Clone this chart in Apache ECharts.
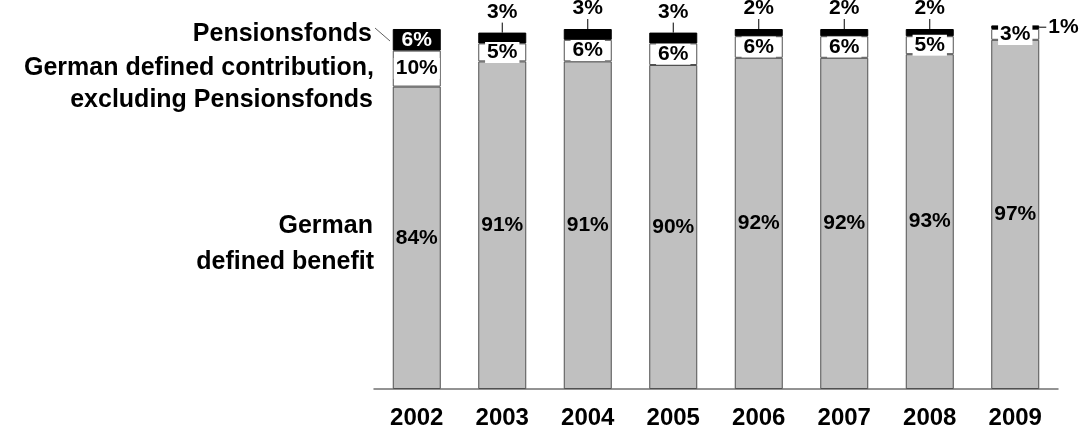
<!DOCTYPE html>
<html>
<head>
<meta charset="utf-8">
<script src="https://cdn.jsdelivr.net/npm/echarts@6/dist/echarts.min.js"></script>
<style>html,body{margin:0;padding:0;background:#fff}#c{width:1080px;height:432px}</style>
</head>
<body>
<div id="c"></div>
<script>
const years = ['2002','2003','2004','2005','2006','2007','2008','2009'];
const definedBenefit = [84, 91, 91, 90, 92, 92, 93, 97];
const definedContribution = [10, 5, 6, 6, 6, 6, 5, 3];
const pensionsfonds = [6, 3, 3, 3, 2, 2, 2, 1];
const pensionsLabelPos = ['inside','top','top','top','top','top','top','right'];

const FONT = '"Liberation Sans", Arial, Helvetica, sans-serif';
const totals = years.map((_, i) => definedBenefit[i] + definedContribution[i] + pensionsfonds[i]);
const BAR_W = 48;

const chart = echarts.init(document.getElementById('c'), null, {renderer: 'canvas'});
const lblBase = {show: true, fontFamily: FONT, fontWeight: 'bold', fontSize: 21, color: '#000', formatter: p => p.value + '%'};

chart.setOption({
  animation: false,
  grid: {left: 374, right: 22, top: 29, bottom: 43},
  xAxis: {
    type: 'category', data: years,
    axisLine: {lineStyle: {color: '#707070', width: 1.5}},
    axisTick: {show: false},
    axisLabel: {fontFamily: FONT, fontWeight: 'bold', fontSize: 24, color: '#000', margin: 17}
  },
  yAxis: {type: 'value', min: 0, max: 100, show: false, splitLine: {show: false}},
  series: [
    {
      name: 'German defined benefit', type: 'bar', stack: 't', barWidth: BAR_W, clip: false,
      data: definedBenefit,
      itemStyle: {color: '#c0c0c0', borderColor: '#505050', borderWidth: 1},
      label: Object.assign({}, lblBase, {position: 'inside'})
    },
    {
      name: 'German defined contribution, excluding Pensionsfonds', type: 'bar', stack: 't', barWidth: BAR_W, clip: false,
      data: definedContribution,
      itemStyle: {color: '#ffffff', borderColor: '#505050', borderWidth: 1},
      label: Object.assign({}, lblBase, {position: 'inside', backgroundColor: '#fff', padding: [0, 2]})
    },
    {
      name: 'Pensionsfonds', type: 'bar', stack: 't', barWidth: BAR_W, clip: false,
      data: pensionsfonds.map((v, i) => ({
        value: v,
        label: pensionsLabelPos[i] === 'inside'
          ? {position: 'inside', color: '#fff'}
          : {position: pensionsLabelPos[i], distance: pensionsLabelPos[i] === 'top' ? 10 : 9, color: '#000'}
      })),
      itemStyle: {color: '#000000', borderColor: '#000', borderWidth: 1},
      label: Object.assign({}, lblBase)
    },
    {
      type: 'custom', z: 5, clip: false,
      data: years.map((_, i) => [i, totals[i]]),
      renderItem: function (params, api) {
        const i = api.value(0);
        const pos = pensionsLabelPos[i];
        if (pos === 'inside') return null;
        const pt = api.coord([i, api.value(1)]);
        const half = BAR_W / 2;
        let shape;
        if (pos === 'top') {
          shape = {x1: pt[0], y1: pt[1], x2: pt[0], y2: pt[1] - 10};
        } else {
          const segH = api.size([0, pensionsfonds[i]])[1];
          const y = pt[1] + segH / 2;
          shape = {x1: pt[0] + half, y1: y, x2: pt[0] + half + 7, y2: y};
        }
        return {type: 'line', shape: shape, style: {stroke: '#000', lineWidth: 1}};
      }
    }
  ],
  graphic: [
    {type: 'text', x: 372, y: 34, style: {text: 'Pensionsfonds', font: 'bold 25px ' + FONT, fill: '#000', textAlign: 'right', textVerticalAlign: 'middle'}},
    {type: 'text', x: 374, y: 68, style: {text: 'German defined contribution,', font: 'bold 25px ' + FONT, fill: '#000', textAlign: 'right', textVerticalAlign: 'middle'}},
    {type: 'text', x: 373, y: 100, style: {text: 'excluding Pensionsfonds', font: 'bold 25px ' + FONT, fill: '#000', textAlign: 'right', textVerticalAlign: 'middle'}},
    {type: 'text', x: 373, y: 226, style: {text: 'German', font: 'bold 25px ' + FONT, fill: '#000', textAlign: 'right', textVerticalAlign: 'middle'}},
    {type: 'text', x: 374, y: 262, style: {text: 'defined benefit', font: 'bold 25px ' + FONT, fill: '#000', textAlign: 'right', textVerticalAlign: 'middle'}},
    {type: 'line', shape: {x1: 375, y1: 28, x2: 390, y2: 41}, style: {stroke: '#606060', lineWidth: 1}}
  ]
});
</script>
</body>
</html>
